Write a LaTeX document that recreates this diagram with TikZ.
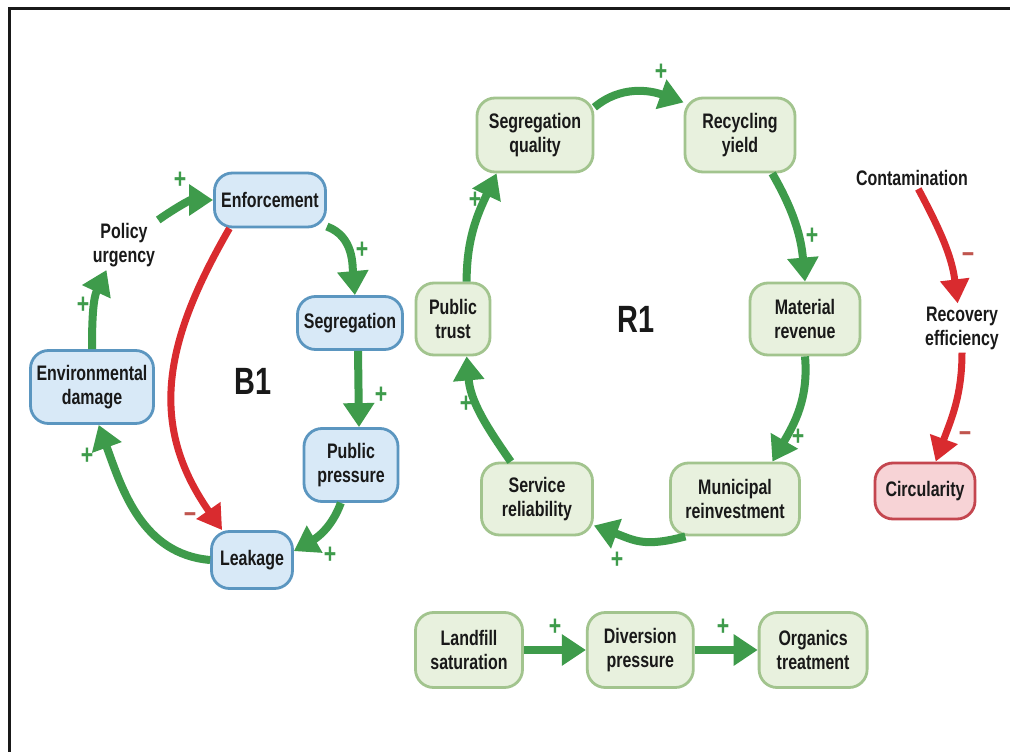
\documentclass[tikz,border=0pt]{standalone}
\usepackage{fontspec}
\setmainfont{Liberation Sans}[FakeStretch=0.76]
\usepackage{xcolor}
\usetikzlibrary{arrows.meta, positioning}

\definecolor{bluefill}{HTML}{D8E9F7}
\definecolor{blueedge}{HTML}{5B96C0}
\definecolor{greenfill}{HTML}{E8F1DE}
\definecolor{greenedge}{HTML}{A2C48E}
\definecolor{pinkfill}{HTML}{F7D3D6}
\definecolor{pinkedge}{HTML}{C4464F}
\definecolor{linkgreen}{HTML}{3E9B4B}
\definecolor{linkred}{HTML}{D92B2F}
\definecolor{minuscol}{HTML}{C0554E}

\begin{document}
\begin{tikzpicture}[
  x=1pt, y=-1pt,
  every node/.style={font=\bfseries\fontsize{21}{24}\selectfont, text=black!90},
  bluebox/.style={rectangle, draw=blueedge, fill=bluefill, line width=2.8pt, rounded corners=18pt, align=center, inner sep=2pt},
  greenbox/.style={rectangle, draw=greenedge, fill=greenfill, line width=2.8pt, rounded corners=18pt, align=center, inner sep=2pt},
  pinkbox/.style={rectangle, draw=pinkedge, fill=pinkfill, line width=2.8pt, rounded corners=18pt, align=center, inner sep=2pt},
  varname/.style={align=center, inner sep=3pt},
  loopname/.style={font=\bfseries\fontsize{38}{40}\selectfont},
  pos link/.style={draw=linkgreen, line width=8pt, -{Triangle[length=24pt, width=30pt]}},
  neg link/.style={draw=linkred, line width=7pt, -{Triangle[length=24pt, width=28pt]}},
  plussign/.style={text=linkgreen, font=\bfseries\fontsize{28}{28}\selectfont, inner sep=0pt},
  minussign/.style={text=minuscol, font=\bfseries\fontsize{28}{28}\selectfont, inner sep=0pt}
]

\fill[white] (0,0) rectangle (1010,752);
\useasboundingbox (0,0) rectangle (1010,752);
\draw[line width=3pt, black!90] (9,752) -- (9,9) -- (1010,9);

% B1 loop
\node[bluebox, minimum width=111pt, minimum height=54pt] (enforce) at (270,200) {Enforcement};
\node[bluebox, minimum width=105pt, minimum height=53pt] (segreg) at (350,323) {Segregation};
\node[bluebox, minimum width=94pt, minimum height=73pt] (pubpress) at (351,465) {Public\\pressure};
\node[bluebox, minimum width=81pt, minimum height=57pt] (leakage) at (252,560) {Leakage};
\node[bluebox, minimum width=123pt, minimum height=73pt] (envdmg) at (92,387) {Environmental\\damage};
\node[varname] (policy) at (124,245) {Policy\\urgency};
\node[loopname] (b1) at (253,381) {B1};

% R1 loop
\node[greenbox, minimum width=116pt, minimum height=74pt] (segqual) at (535,135) {Segregation\\quality};
\node[greenbox, minimum width=110pt, minimum height=74pt] (recyield) at (740,135) {Recycling\\yield};
\node[greenbox, minimum width=110pt, minimum height=72pt] (matrev) at (805,319) {Material\\revenue};
\node[greenbox, minimum width=129pt, minimum height=72pt] (munreinv) at (735,499) {Municipal\\reinvestment};
\node[greenbox, minimum width=111pt, minimum height=72pt] (servrel) at (537,499) {Service\\reliability};
\node[greenbox, minimum width=74pt, minimum height=72pt] (pubtrust) at (453,319) {Public\\trust};
\node[loopname] (r1) at (636,319) {R1};

% Contamination chain
\node[varname] (contam) at (912,178) {Contamination};
\node[varname] (receff) at (962,328) {Recovery\\efficiency};
\node[pinkbox, minimum width=100pt, minimum height=56pt] (circ) at (925,491) {Circularity};

% Landfill chain
\node[greenbox, minimum width=107pt, minimum height=75pt] (landfill) at (469,650) {Landfill\\saturation};
\node[greenbox, minimum width=106pt, minimum height=75pt, right=62pt of landfill] (divpress) {Diversion\\pressure};
\node[greenbox, minimum width=108pt, minimum height=75pt, right=63pt of divpress] (organics) {Organics\\treatment};

% Links - B1
\draw[pos link] (envdmg.north) to[out=90, in=-115] (policy.235);
\draw[pos link] (policy.north east) to[out=35, in=180] (enforce.west);
\draw[pos link] (enforce.-25) to[out=-20, in=95] (segreg.80);
\draw[pos link] ([xshift=8pt]segreg.south) -- ([xshift=8pt]pubpress.north);
\draw[pos link] (pubpress.-105) to[out=-110, in=30] (leakage.12);
\draw[pos link] (leakage.west) to[out=175, in=-70] (envdmg.-80);
\draw[neg link] (enforce.-145) to[out=-120, in=125, looseness=1.1] (leakage.135);

\node[plussign] at (83,305) {+};
\node[plussign] at (180,180) {+};
\node[plussign] at (362,250) {+};
\node[plussign] at (381,395) {+};
\node[plussign] at (330,555) {+};
\node[plussign] at (87,456) {+};
\node[minussign] at (190,518) {−};

% Links - R1
\draw[pos link] (segqual.25) to[out=40, in=160] (recyield.150);
\draw[pos link] (recyield.-50) to[out=-60, in=95] (matrev.north);
\draw[pos link] (matrev.south) to[out=-85, in=60] (munreinv.45);
\draw[pos link] (munreinv.-143) to[out=-165, in=-20, looseness=1.2] (servrel.-25);
\draw[pos link] (servrel.125) to[out=125, in=-85] (pubtrust.-70);
\draw[pos link] (pubtrust.70) to[out=90, in=-115] (segqual.-135);

\node[plussign] at (661,72) {+};
\node[plussign] at (812,236) {+};
\node[plussign] at (798,437) {+};
\node[plussign] at (617,560) {+};
\node[plussign] at (466,404) {+};
\node[plussign] at (475,200) {+};

% Links - contamination
\draw[neg link] (contam.-60) to[out=-62, in=97] (receff.100);
\draw[neg link] (receff.south) to[out=-90, in=70] (circ.70);
\node[minussign] at (968,258) {−};
\node[minussign] at (965,437) {−};

% Links - landfill
\draw[pos link] (landfill) -- (divpress);
\draw[pos link] (divpress) -- (organics);
\node[plussign] at (555,627) {+};
\node[plussign] at (723,627) {+};

\end{tikzpicture}
\end{document}
